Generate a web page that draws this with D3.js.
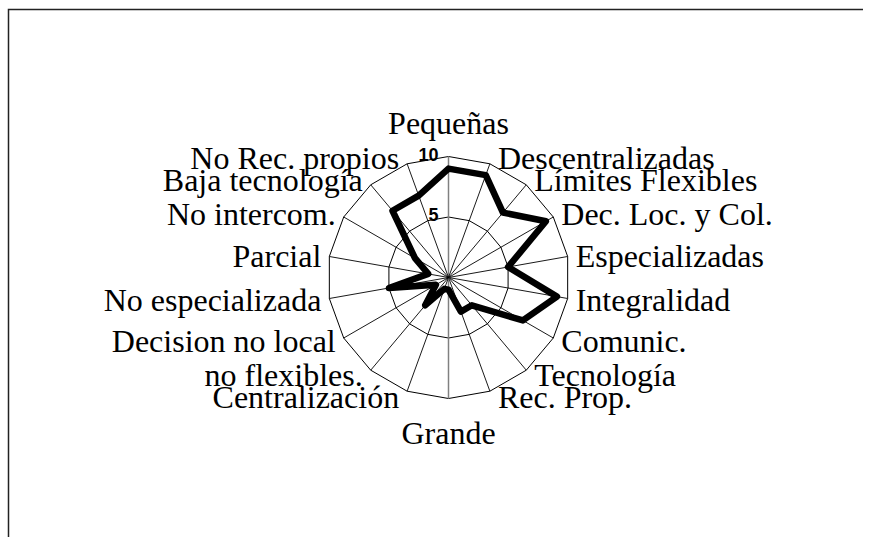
<!DOCTYPE html>
<html>
<head>
<meta charset="utf-8">
<title>Radar</title>
<style>
  body { margin: 0; background: #fff; }
  svg { display: block; }
  .lbl { font-family: "Liberation Serif", "Times New Roman", serif; font-size: 32px; fill: #000; }
  .tick { font-family: "Liberation Sans", Arial, sans-serif; font-size: 18px; font-weight: bold; fill: #000; }
</style>
</head>
<body>
<svg width="875" height="537"></svg>
<script src="https://cdn.jsdelivr.net/npm/d3@7"></script>
<script>

var categories = ["Pequeñas", "Descentralizadas", "Límites Flexibles", "Dec. Loc. y Col.",
  "Especializadas", "Integralidad", "Comunic.", "Tecnología", "Rec. Prop.", "Grande",
  "Centralización", "no flexibles.", "Decision no local", "No especializada", "Parcial",
  "No intercom.", "Baja tecnología", "No Rec. propios"];

var values = [9, 9, 7, 9.3, 5, 9.1, 7.1, 3, 3, 1, 1, 3, 1.2, 5, 1.7, 3.2, 7.2, 7.2];

var tickValues = [5, 10];

var svg = d3.select("svg"),
    cx = 448.5, cy = 277.5, R = 121;

var r = d3.scaleLinear().domain([0, 10]).range([0, R]);
var n = categories.length;
var angle = function(i) { return i * 2 * Math.PI / n; };

// frame of the chart area
svg.append("path")
    .attr("d", "M8.5,537V9.5H863")
    .attr("fill", "none")
    .attr("stroke", "#222")
    .attr("stroke-width", 1.5);

var g = svg.append("g").attr("transform", "translate(" + cx + "," + cy + ")");

// rings
tickValues.forEach(function(t) {
  var ring = d3.lineRadial()
      .angle(function(d, i) { return angle(i); })
      .radius(r(t))
      .curve(d3.curveLinearClosed);
  g.append("path")
      .attr("d", ring(categories))
      .attr("fill", "none")
      .attr("stroke", "#000")
      .attr("stroke-width", 1);
});

// spokes
g.selectAll(".spoke")
  .data(categories)
  .enter().append("line")
    .attr("class", "spoke")
    .attr("x1", 0).attr("y1", 0)
    .attr("x2", function(d, i) { return r(10) * Math.sin(angle(i)); })
    .attr("y2", function(d, i) { return -r(10) * Math.cos(angle(i)); })
    .attr("stroke", function(d, i) { return (i % (n / 2) === 0) ? "#808080" : "#000"; })
    .attr("stroke-width", function(d, i) { return (i % (n / 2) === 0) ? 1.5 : 0.9; });

// series
var line = d3.lineRadial()
    .angle(function(d, i) { return angle(i); })
    .radius(function(d) { return r(d); })
    .curve(d3.curveLinearClosed);

g.append("path")
    .attr("d", line(values))
    .attr("fill", "none")
    .attr("stroke", "#000")
    .attr("stroke-width", 6.5)
    .attr("stroke-linejoin", "round")
    .attr("stroke-linecap", "round");

// tick labels
g.selectAll(".tick")
  .data(tickValues)
  .enter().append("text")
    .attr("class", "tick")
    .attr("x", -10)
    .attr("y", function(d) { return -r(d) - 2; })
    .attr("dy", "0.35em")
    .attr("text-anchor", "end")
    .text(function(d) { return d; });

// category labels
g.selectAll(".lbl")
  .data(categories)
  .enter().append("text")
    .attr("class", "lbl")
    .attr("x", function(d, i) {
      var s = Math.sin(angle(i));
      return r(10) * s + (Math.abs(s) < 0.01 ? 0 : (s > 0 ? 8 : -8));
    })
    .attr("y", function(d, i) {
      var c = Math.cos(angle(i));
      if (Math.abs(Math.sin(angle(i))) < 0.01) return -r(10) * c - 34 * c;
      return -r(10) * c - 6 * c;
    })
    .attr("dy", "0.35em")
    .attr("text-anchor", function(d, i) {
      var s = Math.sin(angle(i));
      return Math.abs(s) < 0.01 ? "middle" : (s > 0 ? "start" : "end");
    })
    .text(function(d) { return d; });

</script>
</body>
</html>
